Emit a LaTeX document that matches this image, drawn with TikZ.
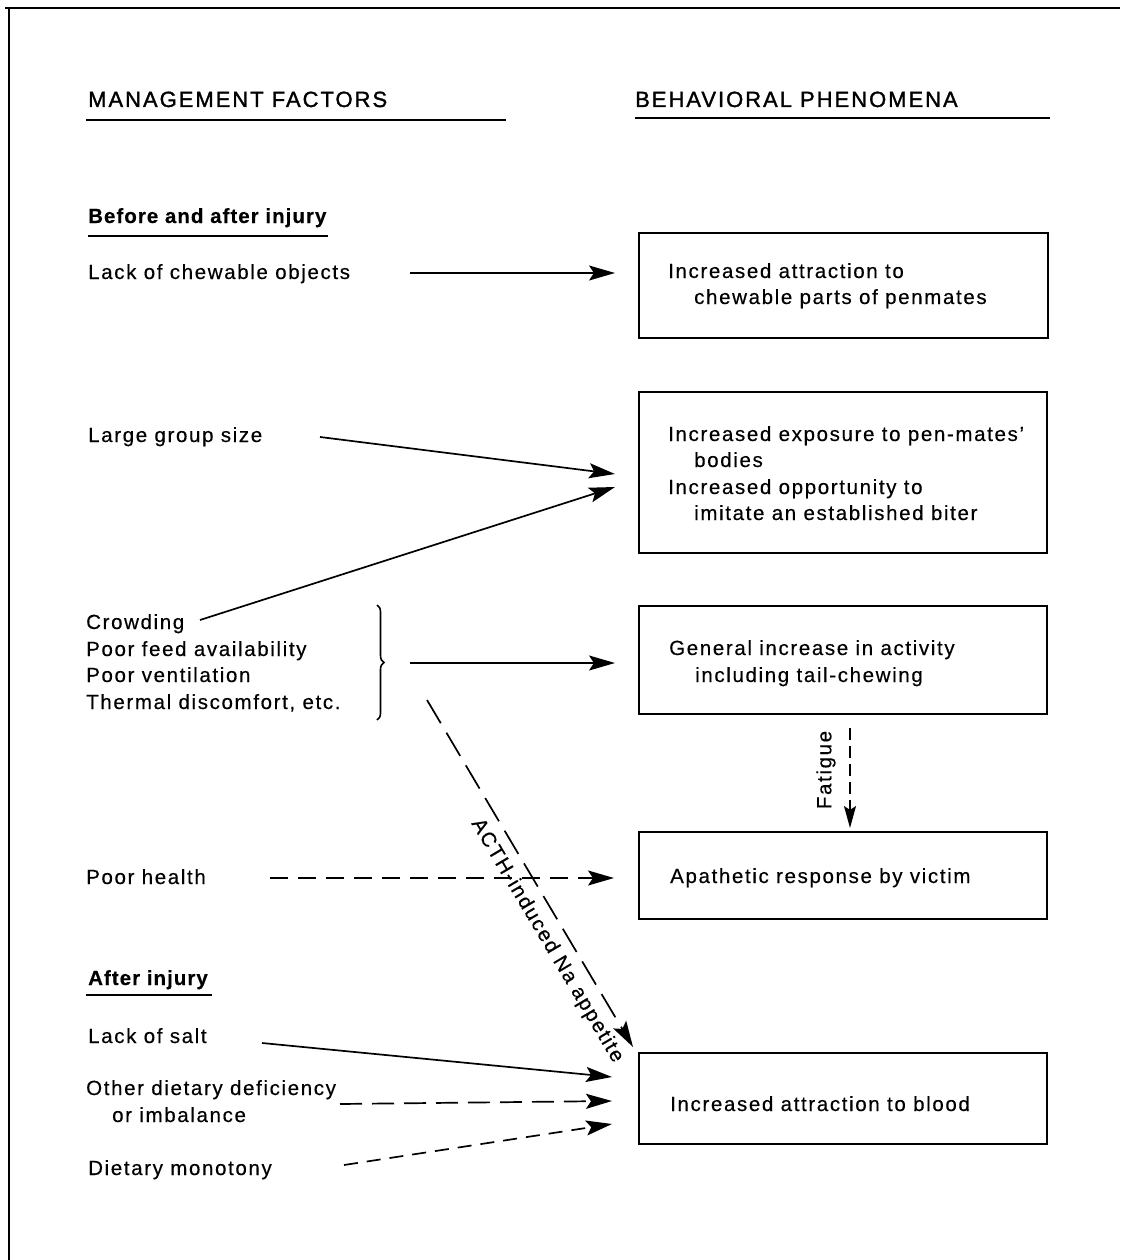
\documentclass[tikz,border=0pt]{standalone}
\usepackage{fontspec}
\setmainfont{Liberation Sans}[LetterSpace=8, FakeBold=0.4]
\usetikzlibrary{arrows.meta,decorations.pathreplacing}
\begin{document}
\begin{tikzpicture}[x=1pt,y=-1pt,
  txt/.style={anchor=base west, inner sep=0pt, font=\fontsize{20.5}{24}\selectfont},
  hdr/.style={anchor=base west, inner sep=0pt, font=\fontsize{22}{26}\selectfont\addfontfeature{LetterSpace=9, FakeBold=1.4}},
  sub/.style={anchor=base west, inner sep=0pt, font=\fontsize{20.5}{24}\selectfont\bfseries\addfontfeature{LetterSpace=5}},
  box/.style={draw, line width=1.9pt, anchor=north west, inner sep=0pt},
  rule/.style={line width=1.9pt},
  arr/.style={line width=1.7pt, -{Stealth[length=26pt,width=15pt,inset=5pt]}},
  dsh/.style={arr, dash pattern=on 18pt off 10pt},
]
\useasboundingbox (0,0) rectangle (1120,1260);
% frame
\draw[line width=2pt] (5,8) -- (1120,8);
\draw[line width=2pt] (9,8) -- (9,1260);

% headers
\node[hdr] (h1) at (88,107) {MANAGEMENT FACTORS};
\node[hdr] (h2) at (635,107) {BEHAVIORAL PHENOMENA};
\draw[rule] (86,120) -- (506,120);
\draw[rule] (635,118) -- (1050,118);

% left column
\node[sub] (s1) at (88,223) {Before and after injury};
\draw[rule] (88,236) -- (328,236);
\node[txt] (m1) at (88,279) {Lack of chewable objects};
\node[txt] (m2) at (88,442) {Large group size};
\node[txt] (m3) at (86,629) {Crowding};
\node[txt] (m4) at (86,656) {Poor feed availability};
\node[txt] (m5) at (86,682) {Poor ventilation};
\node[txt] (m6) at (86,709) {Thermal discomfort, etc.};
\node[txt] (m7) at (86,884) {Poor health};
\node[sub] (s2) at (88,985) {After injury};
\draw[rule] (86,995) -- (212,995);
\node[txt] (m8) at (88,1043) {Lack of salt};
\node[txt] (m9) at (86,1095) {Other dietary deficiency};
\node[txt] (m9b) at (112,1122) {or imbalance};
\node[txt] (m10) at (88,1175) {Dietary monotony};

% brace
\draw[line width=1.6pt, decorate, decoration={brace, amplitude=7pt}] (377,605) -- (377,720);

% boxes
\node[box, minimum width=409pt, minimum height=105pt] (b1) at (638,232) {};
\node[box, minimum width=408pt, minimum height=161pt] (b2) at (638,391) {};
\node[box, minimum width=408pt, minimum height=108pt] (b3) at (638,605) {};
\node[box, minimum width=408pt, minimum height=87pt] (b4) at (638,831) {};
\node[box, minimum width=408pt, minimum height=91pt] (b5) at (638,1052) {};

% box texts
\node[txt] (t1a) at (668,278) {Increased attraction to};
\node[txt] (t1b) at (694,304) {chewable parts of penmates};
\node[txt] (t2a) at (668,441) {Increased exposure to pen-mates’};
\node[txt] (t2b) at (694,467) {bodies};
\node[txt] (t2c) at (668,494) {Increased opportunity to};
\node[txt] (t2d) at (694,520) {imitate an established biter};
\node[txt] (t3a) at (669,655) {General increase in activity};
\node[txt] (t3b) at (695,682) {including tail-chewing};
\node[txt] (t4) at (670,883) {Apathetic response by victim};
\node[txt] (t5) at (670,1111) {Increased attraction to blood};
\node[txt, rotate=90, anchor=center] (fat) at (826,770) {Fatigue};

% connector end points
\coordinate (c1s) at (410,273);  \coordinate (c1e) at (615,273);
\coordinate (c2s) at (320,437);  \coordinate (c2e) at (615,474);
\coordinate (c3s) at (200,620);  \coordinate (c3e) at (615,487);
\coordinate (c4s) at (410,663);  \coordinate (c4e) at (615,663);
\coordinate (c5s) at (850,728);  \coordinate (c5e) at (850,828);
\coordinate (c6s) at (270,878);  \coordinate (c6e) at (614,878);
\coordinate (c7s) at (427,700);  \coordinate (c7e) at (633,1047);
\coordinate (c8s) at (262,1043); \coordinate (c8e) at (612,1077);
\coordinate (c9s) at (340,1104); \coordinate (c9e) at (612,1101);
\coordinate (c10s) at (344,1165); \coordinate (c10e) at (612,1124);

% connectors
\draw[arr] (c1s) -- (c1e);
\draw[arr] (c2s) -- (c2e);
\draw[arr] (c3s) -- (c3e);
\draw[arr] (c4s) -- (c4e);
\draw[line width=1.7pt, dash pattern=on 12pt off 6pt, -{Stealth[length=22pt,width=12pt,inset=4pt]}] (c5s) -- (c5e);
\draw[dsh] (c6s) -- (c6e);
\draw[arr, dash pattern=on 27pt off 11pt] (c7s) -- (c7e)
  node[pos=0.665, sloped, below=6pt, font=\fontsize{20.5}{24}\selectfont] (acth) {ACTH-induced Na appetite};
\draw[arr] (c8s) -- (c8e);
\draw[arr, dash pattern=on 22pt off 10pt] (c9s) -- (c9e);
\draw[arr, dash pattern=on 14pt off 9pt] (c10s) -- (c10e);
\end{tikzpicture}
\end{document}
